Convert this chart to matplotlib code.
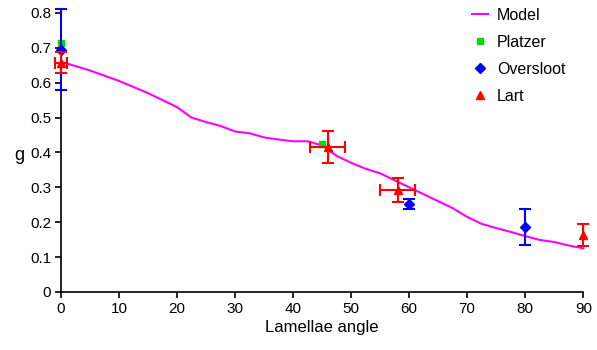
import matplotlib
matplotlib.use("Agg")
import matplotlib.pyplot as plt
from matplotlib.lines import Line2D

plt.rcParams['font.family'] = ['Liberation Sans', 'DejaVu Sans']

model_x = [0, 5, 10, 15, 20, 22.5, 25, 27.5, 30, 32.5, 35, 37.5, 40, 42.5, 45, 47.5, 50,
           52.5, 55, 57.5, 60, 62.5, 65, 67.5, 70, 72.5, 75, 77.5, 80, 82.5, 85, 87.5, 90]
model_y = [0.66, 0.635, 0.605, 0.57, 0.53, 0.50, 0.487, 0.476, 0.46, 0.455, 0.443, 0.437,
           0.432, 0.432, 0.42, 0.39, 0.37, 0.353, 0.34, 0.32, 0.30, 0.28, 0.26, 0.24, 0.215,
           0.195, 0.183, 0.172, 0.16, 0.149, 0.143, 0.133, 0.125]

platzer_x = [0, 45]
platzer_y = [0.715, 0.425]

oversloot_x = [0, 60, 80]
oversloot_y = [0.695, 0.252, 0.187]
oversloot_yerr = [0.117, 0.015, 0.052]

lart_x = [0, 46, 58, 90]
lart_y = [0.657, 0.416, 0.292, 0.163]
lart_yerr = [0.03, 0.045, 0.035, 0.032]
lart_xerr = [1, 3, 3, 0]

fig = plt.figure(figsize=(5.97, 3.5), dpi=100)
ax = fig.add_axes([0.102, 0.166, 0.875, 0.797])

ax.plot(model_x, model_y, color='#FF00FF', lw=1.5, zorder=2, clip_on=False)
containers = []
containers.append(ax.errorbar(platzer_x, platzer_y, fmt='s', color='#00DD00', ms=4, zorder=3))
containers.append(ax.errorbar(oversloot_x, oversloot_y, yerr=oversloot_yerr, fmt='D',
                              color='#0000FF', ms=5, ecolor='#0000FF', elinewidth=1.5,
                              capsize=4, capthick=1.5, zorder=4))
containers.append(ax.errorbar(lart_x, lart_y, yerr=lart_yerr, xerr=lart_xerr, fmt='^',
                              color='#FF0000', ms=6, ecolor='#FF0000', elinewidth=1.5,
                              capsize=4, capthick=1.5, zorder=5))
for c in containers:
    for art in c.get_children():
        art.set_clip_on(False)

ax.set_xlim(0, 90)
ax.set_ylim(0, 0.8)
ax.set_xticks(range(0, 91, 10))
ax.set_yticks([0, 0.1, 0.2, 0.3, 0.4, 0.5, 0.6, 0.7, 0.8])
ax.set_yticklabels(['0', '0.1', '0.2', '0.3', '0.4', '0.5', '0.6', '0.7', '0.8'])
for s in ['top', 'right']:
    ax.spines[s].set_visible(False)
for s in ['left', 'bottom']:
    ax.spines[s].set_linewidth(1.2)
ax.tick_params(axis='both', labelsize=11, width=1.2, length=4, direction='out', pad=3)
ax.set_xlabel('Lamellae angle', fontsize=12, labelpad=3)
ax.set_ylabel('g', fontsize=13, rotation=0, va='center', ha='center')
ax.yaxis.set_label_coords(-0.079, 0.49)

handles = [
    Line2D([], [], color='#FF00FF', lw=1.5),
    Line2D([], [], color='#00DD00', marker='s', ms=4, ls='none'),
    Line2D([], [], color='#0000FF', marker='D', ms=5, ls='none'),
    Line2D([], [], color='#FF0000', marker='^', ms=6, ls='none'),
]
labels = ['Model', 'Platzer', 'Oversloot', 'Lart']
ax.legend(handles, labels, loc='upper left', bbox_to_anchor=(0.775, 1.042), frameon=False,
          fontsize=11.5, labelspacing=0.75, handlelength=1.0, handletextpad=0.55,
          borderaxespad=0)

fig.savefig('out.png', dpi=100)
